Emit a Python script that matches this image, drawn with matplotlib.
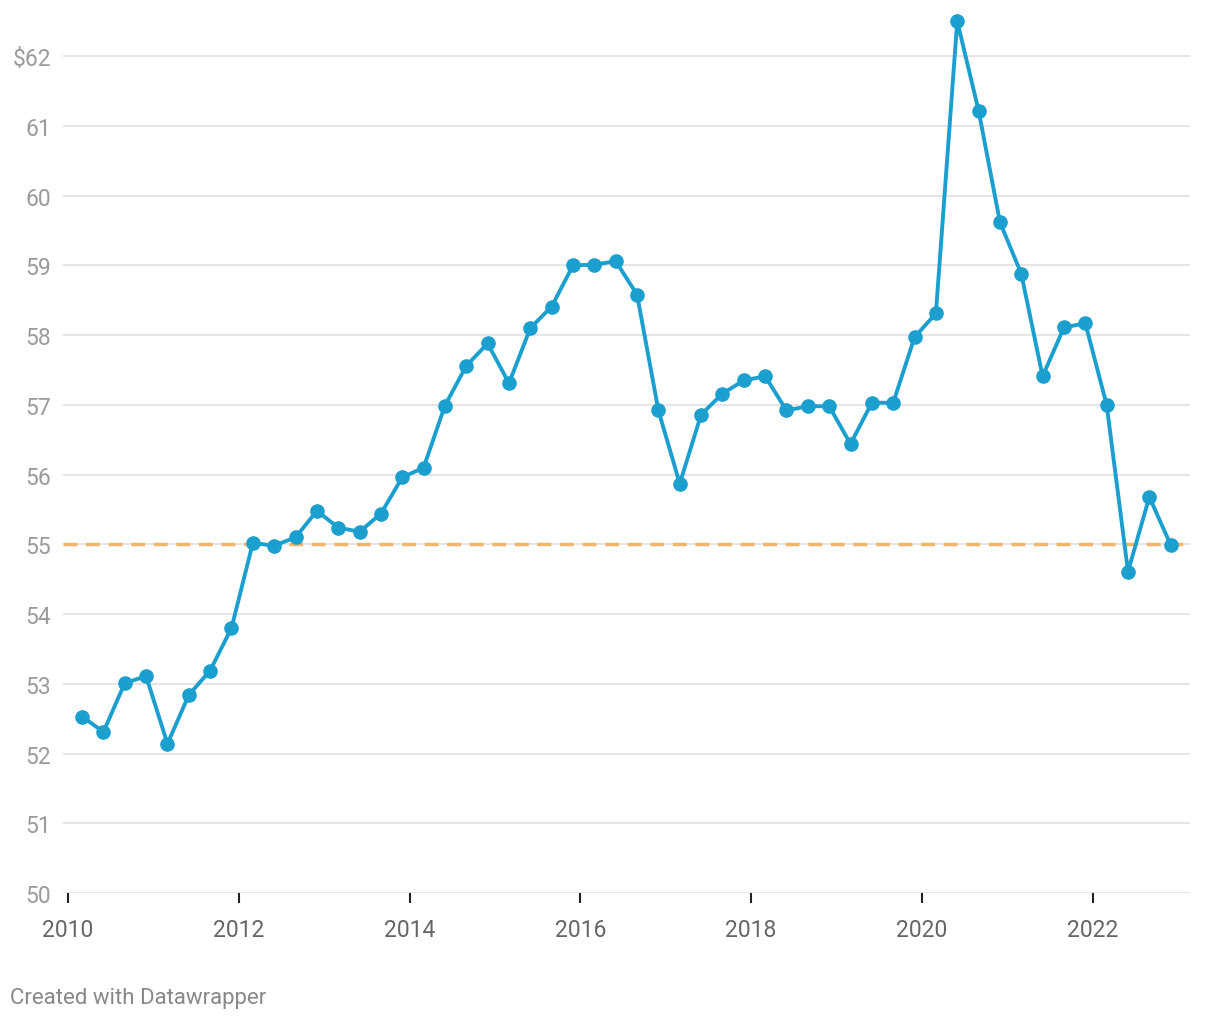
import numpy as np
import matplotlib.pyplot as plt

plt.rcParams['font.family'] = ['Roboto', 'DejaVu Sans']

# quarterly values, 2010 Q1 .. 2022 Q4
start_year = 2010
values = [52.53, 52.31, 53.01, 53.11, 52.14, 52.84, 53.19, 53.80,
          55.02, 54.98, 55.10, 55.48, 55.24, 55.18, 55.44, 55.96,
          56.10, 56.99, 57.56, 57.88, 57.31, 58.10, 58.41, 59.00,
          59.01, 59.06, 58.58, 56.92, 55.87, 56.86, 57.16, 57.35,
          57.41, 56.92, 56.98, 56.98, 56.44, 57.03, 57.03, 57.97,
          58.31, 62.50, 61.22, 59.62, 58.88, 57.41, 58.11, 58.17,
          57.00, 54.61, 55.68, 54.99]
reference = 55
y_ticks = [50, 51, 52, 53, 54, 55, 56, 57, 58, 59, 60, 61, 62]
y_labels = [str(v) for v in y_ticks[:-1]] + ['$62']
x_ticks = [2010, 2012, 2014, 2016, 2018, 2020, 2022]

x = start_year + 0.164 + 0.25 * np.arange(len(values))

fig = plt.figure(figsize=(12.2, 10.2), dpi=100)
ax = fig.add_axes([0.0516, 0.1235, 0.9238, 0.8615])

ax.set_xlim(2009.94, 2023.14)
ax.set_ylim(50, 62.6)

for v in y_ticks:
    ax.axhline(v, color='#e3e3e3', lw=1.3, zorder=1)

ax.axhline(reference, color='#f2b56b', lw=2.5, ls=(0, (4, 2.5)), zorder=2)

ax.plot(x, values, color='#1a9fce', lw=2.8, marker='o', ms=9.5,
        zorder=3, clip_on=False)

ax.set_yticks(y_ticks)
ax.set_yticklabels(y_labels)
ax.set_xticks(x_ticks)
ax.set_xticklabels([str(t) for t in x_ticks])

ax.tick_params(axis='y', length=0, pad=8.5, labelsize=16.5, labelcolor='#9b9b9b')
ax.tick_params(axis='x', length=7, width=1.5, color='#222222', pad=11,
               labelsize=16.5, labelcolor='#666666', direction='out')

for s in ax.spines.values():
    s.set_visible(False)

fig.text(0.008, 0.016, 'Created with Datawrapper', fontsize=16, color='#888888')

fig.savefig('out.png', dpi=100)
